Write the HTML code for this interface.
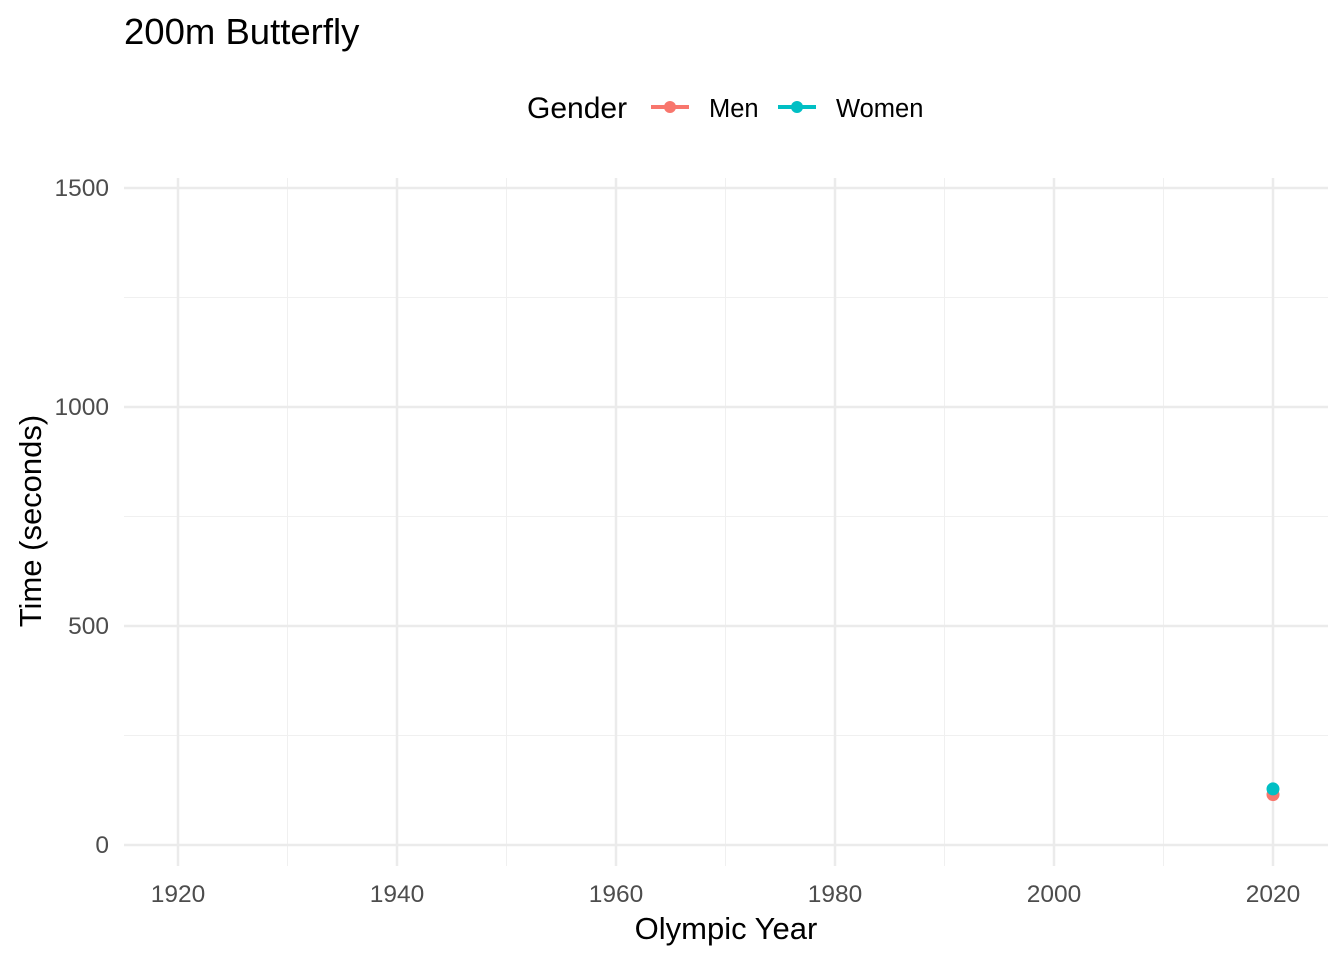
<!DOCTYPE html>
<html><head><meta charset="utf-8"><style>
body{margin:0;background:#fff;font-family:"Liberation Sans",Arial,sans-serif}
</style></head><body>
<svg width="1344" height="960" id="c">
<text x="124" y="44" font-size="36.5" fill="#000">200m Butterfly</text>
<g>
<text x="527" y="118" font-size="30">Gender</text>
<g><line x1="651" y1="107" x2="689" y2="107" stroke="#F8766D" stroke-width="4"/><circle cx="670" cy="107" r="6" fill="#F8766D"/><text x="709" y="117" font-size="25.5">Men</text></g>
<g><line x1="778" y1="107" x2="816" y2="107" stroke="#00BFC4" stroke-width="4"/><circle cx="797" cy="107" r="6" fill="#00BFC4"/><text x="836" y="117" font-size="25.5">Women</text></g>
</g>
<g id="grid"></g><g id="marks"></g><g id="axes"></g>
<text x="726" y="939" font-size="31" text-anchor="middle">Olympic Year</text>
<text transform="translate(41,521) rotate(-90)" font-size="31" text-anchor="middle">Time (seconds)</text>
</svg>
<script>
const xTicks=[1920,1940,1960,1980,2000,2020];
const xMinor=[1930,1950,1970,1990,2010];
const yTicks=[0,500,1000,1500];
const yMinor=[250,750,1250];
const years=[2020];
const menTimes=[115];
const womenTimes=[128];
const X=v=>178+(v-1920)*10.95;
const Y=v=>845-v*0.438;
const ns="http://www.w3.org/2000/svg";
function mk(p,t,a){const e=document.createElementNS(ns,t);for(const k in a)e.setAttribute(k,a[k]);p.appendChild(e);return e;}
const g=document.getElementById('grid'),ax=document.getElementById('axes'),m=document.getElementById('marks');
xMinor.forEach(v=>{const l=mk(g,'line',{x1:X(v),x2:X(v),y1:178,y2:866,stroke:'#f0f0f0','stroke-width':1});

});
yMinor.forEach(v=>{const l=mk(g,'line',{x1:124,x2:1328,y1:Y(v),y2:Y(v),stroke:'#f0f0f0','stroke-width':1});

});
xTicks.forEach(v=>{const l=mk(g,'line',{x1:X(v),x2:X(v),y1:178,y2:866,stroke:'#ebebeb','stroke-width':2.5});


const t=mk(ax,'text',{x:X(v),y:902,'font-size':24.5,fill:'#4d4d4d','text-anchor':'middle'});t.textContent=v;

});
yTicks.forEach(v=>{const l=mk(g,'line',{x1:124,x2:1328,y1:Y(v),y2:Y(v),stroke:'#ebebeb','stroke-width':2.5});


const t=mk(ax,'text',{x:109,y:Y(v)+8,'font-size':24.5,fill:'#4d4d4d','text-anchor':'end'});t.textContent=v;

});
years.forEach((yr,i)=>{
const a=mk(m,'circle',{cx:X(yr),cy:Y(menTimes[i]),r:6.5,fill:'#F8766D'});


const b=mk(m,'circle',{cx:X(yr),cy:Y(womenTimes[i]),r:6.5,fill:'#00BFC4'});

});
</script>
</body></html>
